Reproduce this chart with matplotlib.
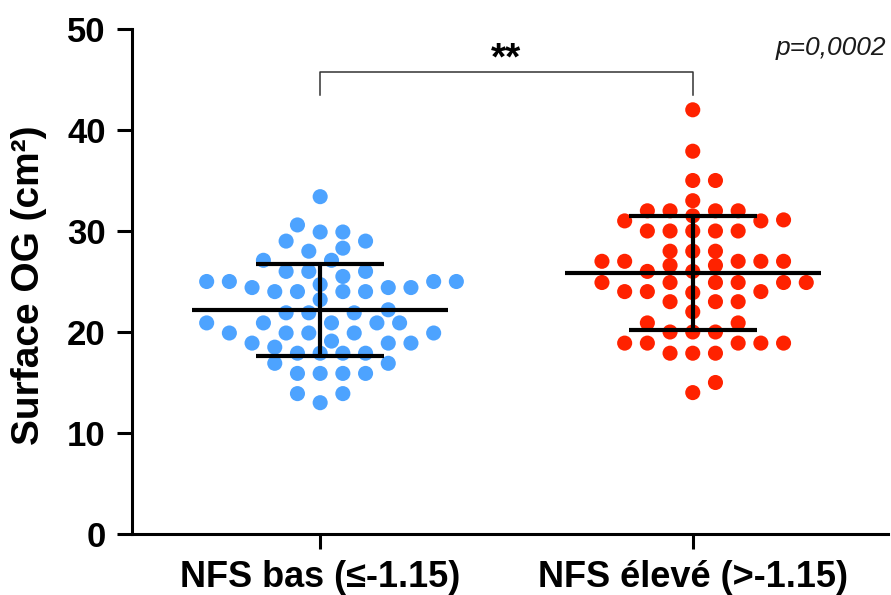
import numpy as np
import matplotlib
matplotlib.use('Agg')
import matplotlib.pyplot as plt

# ---------------- data ----------------
group_labels = ['NFS bas (≤-1.15)', 'NFS élevé (>-1.15)']
nfs_bas = [33.4, 30.6, 29.9, 29.9, 29.0, 29.0, 28.3, 28.0, 27.1, 27.1,
           26.0, 26.0, 26.0, 25.5, 25.0, 25.0, 24.4, 24.4, 24.0, 24.0,
           24.0, 24.0, 24.4, 24.7, 25.0, 25.0, 23.2,
           21.9, 21.9, 22.2, 21.9, 20.9, 20.9, 20.9, 20.9, 20.9,
           19.9, 19.9, 19.9, 19.9, 19.9, 19.1, 18.9, 18.9, 18.9, 18.5,
           17.9, 17.9, 17.9, 17.9, 16.9, 16.9, 15.9, 15.9, 15.9, 15.9,
           13.9, 13.9, 13.0]
nfs_eleve = [42.0, 37.9, 35.0, 35.0, 33.0, 32.0, 32.0, 32.0, 32.0,
             31.1, 31.0, 31.0, 31.5, 30.0, 30.0, 30.0, 30.0, 30.0,
             28.0, 28.0, 28.0, 27.0, 27.0, 27.0, 26.6, 26.6, 27.0, 27.0,
             26.0, 26.0, 24.9, 24.9, 24.9, 24.9, 24.9, 24.9,
             24.0, 24.0, 23.9, 24.0, 23.0, 23.0, 23.0, 22.0,
             20.9, 20.9, 20.0, 20.0, 20.0, 18.9, 18.9, 18.9, 18.9, 18.9,
             17.9, 17.9, 17.9, 15.0, 14.0]
means = [22.2, 25.8]
sds = [4.55, 5.65]
yticks = [0, 10, 20, 30, 40, 50]
ylabel = 'Surface OG (cm²)'
sig_text = '**'
p_text = 'p=0,0002'
bracket_low, bracket_high = 43.5, 45.7

colors = ['#4DA3FF', '#FF2200']

# ---------------- figure ----------------
plt.rcParams['font.family'] = ['Liberation Sans', 'DejaVu Sans']
W, H = 891, 595
fig = plt.figure(figsize=(W / 100, H / 100), dpi=100)
ax_left, ax_right, ax_bottom, ax_top = 132, 888, 534, 29
ax = fig.add_axes([ax_left / W, 1 - ax_bottom / H,
                   (ax_right - ax_left) / W, (ax_bottom - ax_top) / H])
ax.set_xlim(-0.505, 1.524)
ax.set_ylim(0, 50)


def swarm(values, center, dxmin, dymin, step):
    """Grid-based scatter spreading (Prism-like), computed in pixel space."""
    vals = np.asarray(values, float)
    disp = ax.transData.transform(np.column_stack([np.full(len(vals), center), vals]))
    ys = disp[:, 1]
    cx = disp[0, 0]
    order = np.argsort(ys, kind='stable')
    placed = []
    xs = np.zeros(len(vals))
    for i in order:
        y = ys[i]
        k = 0
        while True:
            for c in ([0.0] if k == 0 else [k * step, -k * step]):
                ok = True
                for px, py in placed:
                    if ((c - px) / dxmin) ** 2 + ((y - py) / dymin) ** 2 < 1:
                        ok = False
                        break
                if ok:
                    break
            else:
                k += 1
                continue
            break
        xs[i] = c
        placed.append((c, y))
    back = ax.transData.inverted().transform(np.column_stack([cx + xs, ys]))
    return back[:, 0]


for gi, (vals, col) in enumerate(zip([nfs_bas, nfs_eleve], colors)):
    xs = swarm(vals, gi, 22.0, 14.0, 11.35)
    ax.scatter(xs, vals, s=118, color=col, edgecolors='none', zorder=2)
    m, s = means[gi], sds[gi]
    ax.hlines(m, gi - 0.344, gi + 0.344, color='black', lw=3.0, zorder=3)
    ax.hlines([m - s, m + s], gi - 0.172, gi + 0.172, color='black', lw=3.0, zorder=3)
    ax.vlines(gi, m - s, m + s, color='black', lw=3.0, zorder=3)

# significance bracket
ax.plot([0, 0, 1, 1], [bracket_low, bracket_high, bracket_high, bracket_low],
        color='#333333', lw=1.1, clip_on=False, zorder=1)
ax.text(0.5, bracket_high + 0.3, sig_text, ha='center', va='baseline',
        fontsize=28, fontweight='bold')
fig.text(886 / W, 1 - 48 / H, p_text, ha='right', va='center',
         fontsize=19, fontstyle='italic', color='#1a1a1a')

# axes styling
for side in ['top', 'right']:
    ax.spines[side].set_visible(False)
for side in ['left', 'bottom']:
    ax.spines[side].set_linewidth(2.2)
ax.set_yticks(yticks)
ax.set_xticks([0, 1])
ax.set_xticklabels(group_labels)
ax.tick_params(axis='both', direction='out', length=11, width=2.2)
ax.tick_params(axis='y', labelsize=25, pad=8)
ax.tick_params(axis='x', labelsize=26, pad=8)
for lab in ax.get_xticklabels() + ax.get_yticklabels():
    lab.set_fontweight('bold')
ax.set_ylabel(ylabel, fontsize=28, fontweight='bold')
ax.yaxis.set_label_coords((47 - ax_left) / (ax_right - ax_left),
                          (ax_bottom - 285) / (ax_bottom - ax_top))

fig.savefig('out.png', dpi=100)
